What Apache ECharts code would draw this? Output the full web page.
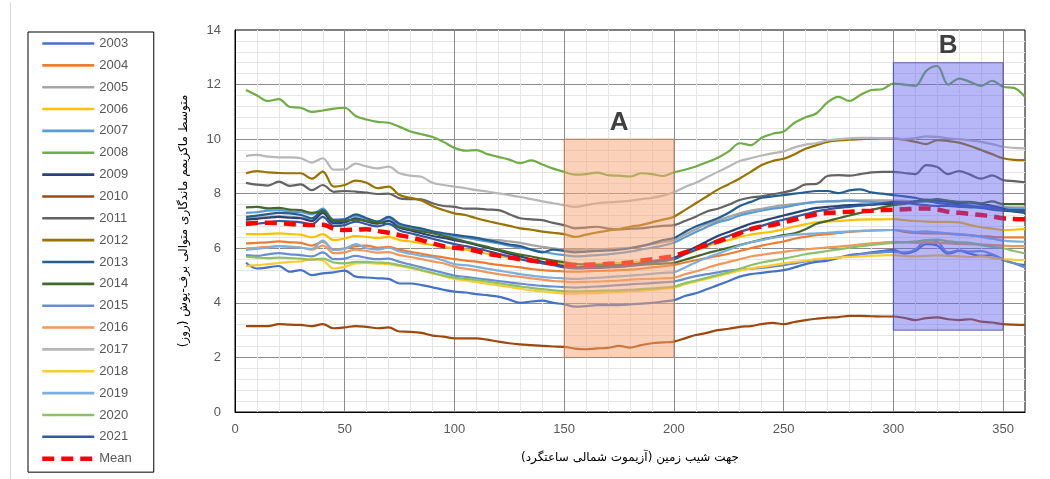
<!DOCTYPE html>
<html>
<head>
<meta charset="utf-8">
<script src="https://cdn.jsdelivr.net/npm/echarts@6/dist/echarts.min.js"></script>
<style>
html, body { margin: 0; padding: 0; background: #fff; }
#chart { width: 1050px; height: 479px; }
</style>
</head>
<body>
<div id="chart"></div>
<script>
// azimuth (degrees, clockwise from north)
const azimuth = [5,10,15,20,25,30,35,40,45,50,55,60,65,70,75,80,85,90,95,100,105,110,115,120,
  125,130,135,140,145,150,155,160,165,170,175,180,185,190,195,200,205,210,215,220,225,230,235,240,
  245,250,255,260,265,270,275,280,285,290,295,300,305,310,315,320,325,330,335,340,345,350,355,360]

const yearNames = ['2003','2004','2005','2006','2007','2008','2009','2010','2011','2012',
  '2013','2014','2015','2016','2017','2018','2019','2020','2021']

const s2003 = [5.47,5.26,5.3,5.35,5.14,5.2,5.02,5.08,5.12,5.18,4.96,4.93,
  4.9,4.88,4.71,4.71,4.65,4.57,4.48,4.41,4.38,4.32,4.28,4.23,
  4.12,4.0,4.05,4.08,4.0,3.95,3.86,3.88,3.92,3.92,3.92,3.94,
  3.97,4.0,4.05,4.1,4.25,4.35,4.5,4.65,4.8,4.96,5.05,5.1,
  5.15,5.2,5.3,5.42,5.5,5.55,5.65,5.75,5.8,5.85,5.9,5.94,
  5.8,5.9,6.15,6.1,5.8,5.9,5.8,5.72,5.75,5.57,5.45,5.38]
const s2004 = [6.18,6.2,6.22,6.25,6.22,6.2,6.1,6.24,5.94,6.0,6.08,6.1,
  6.02,6.05,5.95,5.87,5.8,5.72,5.67,5.6,5.55,5.51,5.45,5.39,
  5.35,5.3,5.24,5.2,5.17,5.15,5.14,5.15,5.17,5.18,5.2,5.22,
  5.25,5.3,5.34,5.39,5.48,5.56,5.64,5.72,5.8,5.9,6.0,6.1,
  6.18,6.25,6.35,6.42,6.48,6.52,6.56,6.6,6.63,6.65,6.66,6.67,
  6.6,6.56,6.55,6.55,6.53,6.5,6.47,6.45,6.42,6.4,6.4,6.4]
const s2005 = [7.1,7.12,7.15,7.18,7.15,7.12,7.05,7.3,6.95,6.98,7.1,7.0,
  6.92,7.02,6.85,6.75,6.68,6.6,6.5,6.42,6.38,6.35,6.32,6.3,
  6.25,6.2,6.12,6.05,6.0,5.96,5.94,5.95,5.96,5.98,6.0,6.02,
  6.08,6.15,6.22,6.3,6.5,6.7,6.88,7.02,7.15,7.28,7.38,7.45,
  7.52,7.58,7.62,7.66,7.7,7.72,7.74,7.76,7.76,7.76,7.76,7.75,
  7.74,7.72,7.72,7.7,7.68,7.65,7.62,7.6,7.56,7.52,7.5,7.5]
const s2006 = [6.52,6.52,6.53,6.55,6.52,6.5,6.4,6.52,6.3,6.36,6.45,6.42,
  6.38,6.42,6.3,6.25,6.18,6.12,6.05,6.0,5.95,5.88,5.8,5.72,
  5.65,5.58,5.53,5.49,5.46,5.44,5.42,5.42,5.43,5.44,5.46,5.48,
  5.51,5.55,5.59,5.63,5.78,5.92,6.08,6.2,6.3,6.42,6.5,6.56,
  6.61,6.7,6.8,6.88,6.95,6.98,7.0,7.03,7.05,7.06,7.06,7.07,
  7.03,7.0,6.98,6.97,6.97,6.95,6.85,6.77,6.72,6.67,6.68,6.7]
const s2007 = [7.3,7.32,7.38,7.4,7.35,7.32,7.25,7.45,7.05,7.08,7.2,7.08,
  6.98,7.1,6.85,6.78,6.7,6.6,6.52,6.45,6.4,6.32,6.25,6.18,
  6.1,6.02,5.95,5.88,5.8,5.75,5.7,5.72,5.75,5.78,5.82,5.88,
  5.95,6.02,6.1,6.2,6.4,6.6,6.78,6.95,7.05,7.2,7.3,7.38,
  7.45,7.5,7.58,7.65,7.7,7.72,7.72,7.75,7.72,7.7,7.68,7.65,
  7.65,7.68,7.72,7.7,7.66,7.62,7.58,7.55,7.5,7.48,7.46,7.45]
const s2008 = [11.8,11.6,11.4,11.47,11.18,11.15,11.0,11.05,11.12,11.15,10.85,10.72,
  10.63,10.6,10.45,10.28,10.18,10.08,9.9,9.68,9.58,9.6,9.45,9.35,
  9.25,9.12,9.22,9.07,8.92,8.8,8.7,8.72,8.77,8.68,8.66,8.63,
  8.75,8.72,8.65,8.78,8.88,9.0,9.15,9.32,9.55,9.85,9.78,10.05,
  10.2,10.28,10.6,10.8,10.95,11.35,11.55,11.4,11.62,11.8,11.83,12.04,
  12.0,11.95,12.5,12.68,12.0,12.22,12.1,11.95,12.14,11.92,11.88,11.55]
const s2009 = [7.05,7.08,7.12,7.15,7.12,7.1,7.0,7.3,6.92,6.95,7.1,6.98,
  6.9,7.0,6.75,6.65,6.55,6.45,6.38,6.3,6.22,6.12,6.02,5.92,
  5.8,5.7,5.6,5.5,5.42,5.35,5.3,5.32,5.33,5.35,5.37,5.4,
  5.45,5.52,5.58,5.65,5.85,6.05,6.25,6.45,6.6,6.75,6.9,7.0,
  7.1,7.2,7.3,7.4,7.48,7.52,7.55,7.58,7.6,7.6,7.62,7.62,
  7.65,7.72,7.78,7.75,7.7,7.66,7.68,7.62,7.55,7.45,7.35,7.3]
const s2010 = [3.15,3.15,3.15,3.22,3.2,3.19,3.15,3.22,3.07,3.1,3.15,3.12,
  3.07,3.1,2.95,2.94,2.9,2.8,2.76,2.7,2.7,2.7,2.65,2.58,
  2.52,2.48,2.45,2.42,2.4,2.39,2.32,2.3,2.33,2.35,2.42,2.36,
  2.45,2.52,2.55,2.58,2.7,2.82,2.9,3.0,3.05,3.12,3.15,3.22,
  3.27,3.22,3.3,3.37,3.42,3.46,3.48,3.52,3.52,3.51,3.5,3.5,
  3.45,3.37,3.44,3.47,3.4,3.37,3.4,3.31,3.28,3.22,3.2,3.19]
const s2011 = [8.4,8.33,8.3,8.44,8.29,8.34,8.13,8.32,8.07,8.1,8.08,8.04,
  7.99,8.0,7.83,7.8,7.79,7.65,7.55,7.52,7.45,7.45,7.42,7.4,
  7.25,7.1,7.06,7.03,6.93,6.85,6.73,6.76,6.79,6.72,6.69,6.72,
  6.73,6.78,6.82,6.85,7.0,7.16,7.35,7.45,7.6,7.77,7.86,7.9,
  7.98,8.05,8.15,8.34,8.36,8.65,8.68,8.66,8.72,8.78,8.8,8.8,
  8.76,8.72,9.05,8.98,8.72,8.83,8.7,8.55,8.67,8.5,8.46,8.42]
const s2012 = [8.75,8.83,8.78,8.76,8.75,8.75,8.55,8.81,8.26,8.32,8.48,8.4,
  8.2,8.26,7.95,7.85,7.75,7.55,7.4,7.28,7.22,7.1,7.0,6.91,
  6.82,6.73,6.68,6.61,6.57,6.52,6.42,6.5,6.58,6.65,6.7,6.79,
  6.85,6.95,7.05,7.16,7.4,7.65,7.9,8.15,8.35,8.56,8.8,9.05,
  9.2,9.28,9.45,9.65,9.78,9.9,9.95,9.98,10.0,10.02,10.02,10.02,
  9.98,9.9,9.82,9.96,9.93,9.87,9.75,9.6,9.45,9.3,9.24,9.23]
const s2013 = [7.15,7.2,7.25,7.3,7.28,7.22,7.1,7.4,6.98,7.05,7.24,7.1,
  6.98,7.15,6.9,6.8,6.72,6.62,6.55,6.49,6.44,6.38,6.3,6.22,
  6.14,6.08,5.95,5.85,5.95,5.9,5.85,5.88,5.9,5.92,5.95,6.0,
  6.08,6.18,6.3,6.38,6.6,6.8,6.95,7.1,7.3,7.55,7.7,7.85,
  7.9,7.95,8.0,8.05,8.1,8.1,8.02,8.12,8.16,8.05,8.0,7.95,
  7.9,7.85,7.75,7.66,7.62,7.58,7.55,7.48,7.42,7.38,7.35,7.34]
const s2014 = [7.5,7.52,7.46,7.48,7.42,7.4,7.3,7.35,7.03,7.02,7.05,7.0,
  6.95,6.89,6.78,6.69,6.62,6.55,6.45,6.35,6.25,6.15,6.05,5.95,
  5.85,5.77,5.7,5.62,5.55,5.49,5.43,5.4,5.39,5.39,5.38,5.38,
  5.4,5.42,5.44,5.47,5.58,5.7,5.82,5.92,6.02,6.12,6.22,6.32,
  6.4,6.48,6.55,6.7,6.9,7.0,7.1,7.2,7.3,7.4,7.5,7.58,
  7.63,7.7,7.75,7.8,7.75,7.7,7.7,7.65,7.72,7.62,7.62,7.62]
const s2015 = [5.75,5.72,5.78,5.82,5.78,5.75,5.7,5.85,5.6,5.62,5.72,5.65,
  5.6,5.62,5.5,5.4,5.3,5.2,5.1,5.0,4.95,4.9,4.85,4.8,
  4.75,4.7,4.66,4.62,4.6,4.58,4.56,4.58,4.6,4.62,4.65,4.68,
  4.7,4.72,4.75,4.78,4.88,4.98,5.05,5.12,5.18,5.22,5.25,5.28,
  5.33,5.38,5.45,5.52,5.58,5.62,5.66,5.72,5.78,5.82,5.85,5.87,
  5.85,5.95,6.3,6.25,5.85,5.92,5.88,5.9,5.78,5.6,5.45,5.3]
const s2016 = [6.0,6.02,6.05,6.08,6.06,6.03,5.95,6.1,5.82,5.85,5.95,5.9,
  5.84,5.86,5.75,5.68,5.6,5.52,5.45,5.32,5.25,5.2,5.12,5.05,
  5.0,4.95,4.9,4.85,4.8,4.78,4.76,4.77,4.78,4.8,4.82,4.85,
  4.87,4.88,4.9,4.92,5.05,5.15,5.28,5.4,5.5,5.6,5.7,5.76,
  5.82,5.87,5.92,5.96,6.0,6.03,6.06,6.1,6.14,6.18,6.21,6.24,
  6.22,6.2,6.22,6.2,6.18,6.16,6.15,6.14,6.12,6.1,6.08,6.08]
const s2017 = [9.38,9.42,9.36,9.33,9.33,9.3,9.14,9.3,8.88,8.89,9.1,9.0,
  8.93,8.99,8.75,8.66,8.62,8.4,8.32,8.26,8.2,8.13,8.08,8.01,
  7.95,7.88,7.8,7.72,7.65,7.58,7.52,7.58,7.65,7.68,7.71,7.74,
  7.8,7.85,7.93,8.05,8.25,8.4,8.6,8.8,9.0,9.2,9.3,9.4,
  9.48,9.55,9.7,9.8,9.85,9.95,10.0,10.03,10.05,10.05,10.03,10.03,
  10.0,10.04,10.1,10.08,10.03,10.0,9.95,9.9,9.82,9.72,9.68,9.66]
const s2018 = [5.35,5.38,5.42,5.46,5.5,5.52,5.6,5.55,5.26,5.32,5.45,5.46,
  5.44,5.42,5.35,5.28,5.18,5.08,4.98,4.88,4.82,4.76,4.7,4.64,
  4.58,4.52,4.46,4.42,4.38,4.35,4.34,4.35,4.36,4.38,4.4,4.42,
  4.45,4.48,4.52,4.56,4.68,4.78,4.88,4.98,5.08,5.18,5.26,5.32,
  5.38,5.45,5.5,5.55,5.6,5.63,5.66,5.68,5.7,5.72,5.74,5.75,
  5.72,5.7,5.72,5.74,5.72,5.7,5.68,5.7,5.65,5.6,5.58,5.57]
const s2019 = [5.94,5.98,6.02,6.08,6.05,6.02,5.98,6.28,5.94,5.98,6.15,6.0,
  5.95,6.02,5.88,5.8,5.72,5.67,5.55,5.42,5.38,5.32,5.25,5.18,
  5.12,5.05,5.0,4.95,4.92,4.9,4.88,4.9,4.92,4.94,4.97,5.0,
  5.03,5.06,5.1,5.12,5.3,5.48,5.65,5.8,5.95,6.1,6.22,6.3,
  6.38,6.45,6.5,6.52,6.55,6.57,6.6,6.62,6.64,6.66,6.67,6.67,
  6.64,6.6,6.62,6.58,6.55,6.52,6.48,6.42,6.35,6.28,6.25,6.24]
const s2020 = [5.69,5.66,5.64,5.66,5.64,5.62,5.58,5.62,5.48,5.45,5.5,5.5,
  5.48,5.46,5.38,5.3,5.2,5.1,5.0,4.92,4.88,4.84,4.78,4.72,
  4.66,4.6,4.55,4.5,4.46,4.43,4.42,4.43,4.44,4.45,4.46,4.48,
  4.5,4.53,4.56,4.6,4.72,4.82,4.92,5.02,5.12,5.25,5.38,5.48,
  5.55,5.62,5.7,5.78,5.84,5.9,5.96,6.02,6.08,6.12,6.16,6.2,
  6.22,6.25,6.3,6.32,6.25,6.22,6.2,6.12,6.05,6.0,5.9,5.81]
const s2021 = [6.85,6.9,6.95,7.0,6.98,6.95,6.88,7.15,6.82,6.85,6.98,6.88,
  6.8,6.9,6.65,6.55,6.45,6.35,6.25,6.15,6.08,6.0,5.9,5.8,
  5.7,5.6,5.52,5.45,5.38,5.3,5.26,5.27,5.28,5.3,5.32,5.35,
  5.4,5.47,5.53,5.6,5.78,5.95,6.12,6.3,6.45,6.6,6.72,6.82,
  6.95,7.05,7.15,7.25,7.35,7.42,7.48,7.52,7.56,7.6,7.65,7.7,
  7.68,7.62,7.58,7.55,7.55,7.52,7.5,7.5,7.48,7.42,7.4,7.4]
const sMean = [6.91,6.93,6.94,6.92,6.89,6.87,6.85,6.86,6.72,6.67,6.68,6.7,
  6.63,6.57,6.48,6.4,6.3,6.18,6.08,6.02,5.98,5.9,5.8,5.73,
  5.66,5.6,5.55,5.5,5.46,5.42,5.39,5.4,5.41,5.43,5.45,5.48,
  5.54,5.6,5.65,5.72,5.85,6.0,6.12,6.24,6.4,6.55,6.7,6.8,
  6.85,6.95,7.05,7.15,7.25,7.29,7.32,7.34,7.36,7.38,7.4,7.41,
  7.43,7.45,7.46,7.42,7.34,7.3,7.26,7.22,7.17,7.1,7.07,7.06]

const yearValues = [s2003, s2004, s2005, s2006, s2007, s2008, s2009, s2010, s2011, s2012,
  s2013, s2014, s2015, s2016, s2017, s2018, s2019, s2020, s2021]

const yearColors = ['#4472C4','#ED7D31','#A5A5A5','#FFC000','#5B9BD5','#70AD47','#264478','#9E480E','#636363','#997300',
  '#255E91','#43682B','#698ED0','#F1975A','#B7B7B7','#FFCD33','#7CAFDD','#8CC168','#335AA1']

const xTitle = 'جهت شیب زمین (آزیموت شمالی ساعتگرد)'
const yTitle = 'متوسط ماکزیمم ماندگاری متوالی برف-پوش (روز)'

const toPairs = (vals) => azimuth.map((x, i) => [x, vals[i]])

// xAxisIndex 1 = main axis (index 0 only carries the minor grid)
const series = yearNames.map((name, i) => ({
    name: name,
    type: 'line',
    xAxisIndex: 1,
    data: toPairs(yearValues[i]),
    smooth: 0.35,
    symbol: 'none',
    z: 2,
    lineStyle: { width: 2.2, color: yearColors[i] },
    itemStyle: { color: yearColors[i] }
}))

series.push({
    name: 'Mean',
    type: 'line',
    xAxisIndex: 1,
    data: toPairs(sMean),
    smooth: 0.35,
    symbol: 'none',
    z: 3,
    lineStyle: { width: 4.5, color: '#FF0000', type: [12, 7] },
    itemStyle: { color: '#FF0000' }
})

// shaded zones A and B, drawn over the lines
series.push({
    name: 'zones',
    type: 'line',
    xAxisIndex: 1,
    data: [],
    silent: true,
    z: 6,
    markArea: {
        silent: true,
        z: 6,
        label: {
            show: true,
            position: 'top',
            distance: 3,
            fontSize: 26,
            fontWeight: 'bold',
            fontFamily: 'Liberation Sans',
            color: '#404040'
        },
        data: [
            [
                { name: 'A', xAxis: 150, yAxis: 2,
                  itemStyle: { color: 'rgba(247,166,115,0.5)', borderColor: 'rgba(190,120,80,0.7)', borderWidth: 1 } },
                { xAxis: 200, yAxis: 10 }
            ],
            [
                { name: 'B', xAxis: 300, yAxis: 3,
                  itemStyle: { color: 'rgba(95,95,240,0.45)', borderColor: 'rgba(70,70,160,0.8)', borderWidth: 1 } },
                { xAxis: 350, yAxis: 12.8 }
            ]
        ]
    }
})

const legendItems = yearNames.map((n) => ({ name: n, lineStyle: { width: 2.6 } }))
legendItems.push({ name: 'Mean', lineStyle: { width: 4.5, type: [12, 7] } })

const chart = echarts.init(document.getElementById('chart'))
chart.setOption({
    animation: false,
    backgroundColor: '#fff',
    grid: {
        left: 235, right: 25, top: 30, bottom: 67,
        show: true, borderColor: '#000', borderWidth: 1, backgroundColor: 'transparent'
    },
    legend: {
        data: legendItems,
        orient: 'vertical',
        left: 28,
        top: 32,
        itemWidth: 52,
        itemHeight: 14,
        itemGap: 8.85,
        padding: [5, 22, 7, 12],
        borderColor: '#000',
        borderWidth: 1,
        itemStyle: { opacity: 0 },
        textStyle: { fontSize: 13, color: '#595959', fontFamily: 'Liberation Sans' }
    },
    xAxis: [
        {
            // minor vertical grid every 10 degrees
            type: 'value', min: 0, max: 360, interval: 10, z: 0, position: 'top',
            axisLine: { show: false }, axisTick: { show: false }, axisLabel: { show: false },
            splitLine: { show: true, showMinLine: false, showMaxLine: false, lineStyle: { color: '#e6e6e6', width: 1 } }
        },
        {
            type: 'value', min: 0, max: 360, interval: 50, z: 0, position: 'bottom',
            axisLine: { show: true, lineStyle: { color: '#000', width: 1 } },
            axisTick: { show: false },
            axisLabel: {
                margin: 11, fontSize: 13, color: '#595959', fontFamily: 'Liberation Sans',
                formatter: (v) => (v === 360 ? '' : v)
            },
            splitLine: { show: true, showMinLine: false, showMaxLine: false, lineStyle: { color: '#8c8c8c', width: 1 } },
            name: xTitle,
            nameLocation: 'middle',
            nameGap: 40,
            nameTextStyle: { fontFamily: 'DejaVu Sans', fontSize: 12, color: '#000' }
        }
    ],
    yAxis: {
        type: 'value', min: 0, max: 14, interval: 2, z: 0,
        axisLine: { show: true, lineStyle: { color: '#000', width: 1 } },
        axisTick: { show: false },
        axisLabel: { margin: 14, fontSize: 13, color: '#595959', fontFamily: 'Liberation Sans' },
        splitLine: { show: true, showMinLine: false, showMaxLine: false, lineStyle: { color: '#8c8c8c', width: 1 } },
        minorTick: { show: false, splitNumber: 5 },
        minorSplitLine: { show: true, lineStyle: { color: '#e6e6e6', width: 1 } },
        name: yTitle,
        nameLocation: 'middle',
        nameRotate: 90,
        nameGap: 45,
        nameTextStyle: { fontFamily: 'DejaVu Sans', fontSize: 12, color: '#000' }
    },
    graphic: [
        { type: 'line', left: 8, top: 0, shape: { x1: 0, y1: 0, x2: 0, y2: 479 }, style: { stroke: '#d9d9d9', lineWidth: 1 } }
    ],
    series: series
})
</script>
</body>
</html>
